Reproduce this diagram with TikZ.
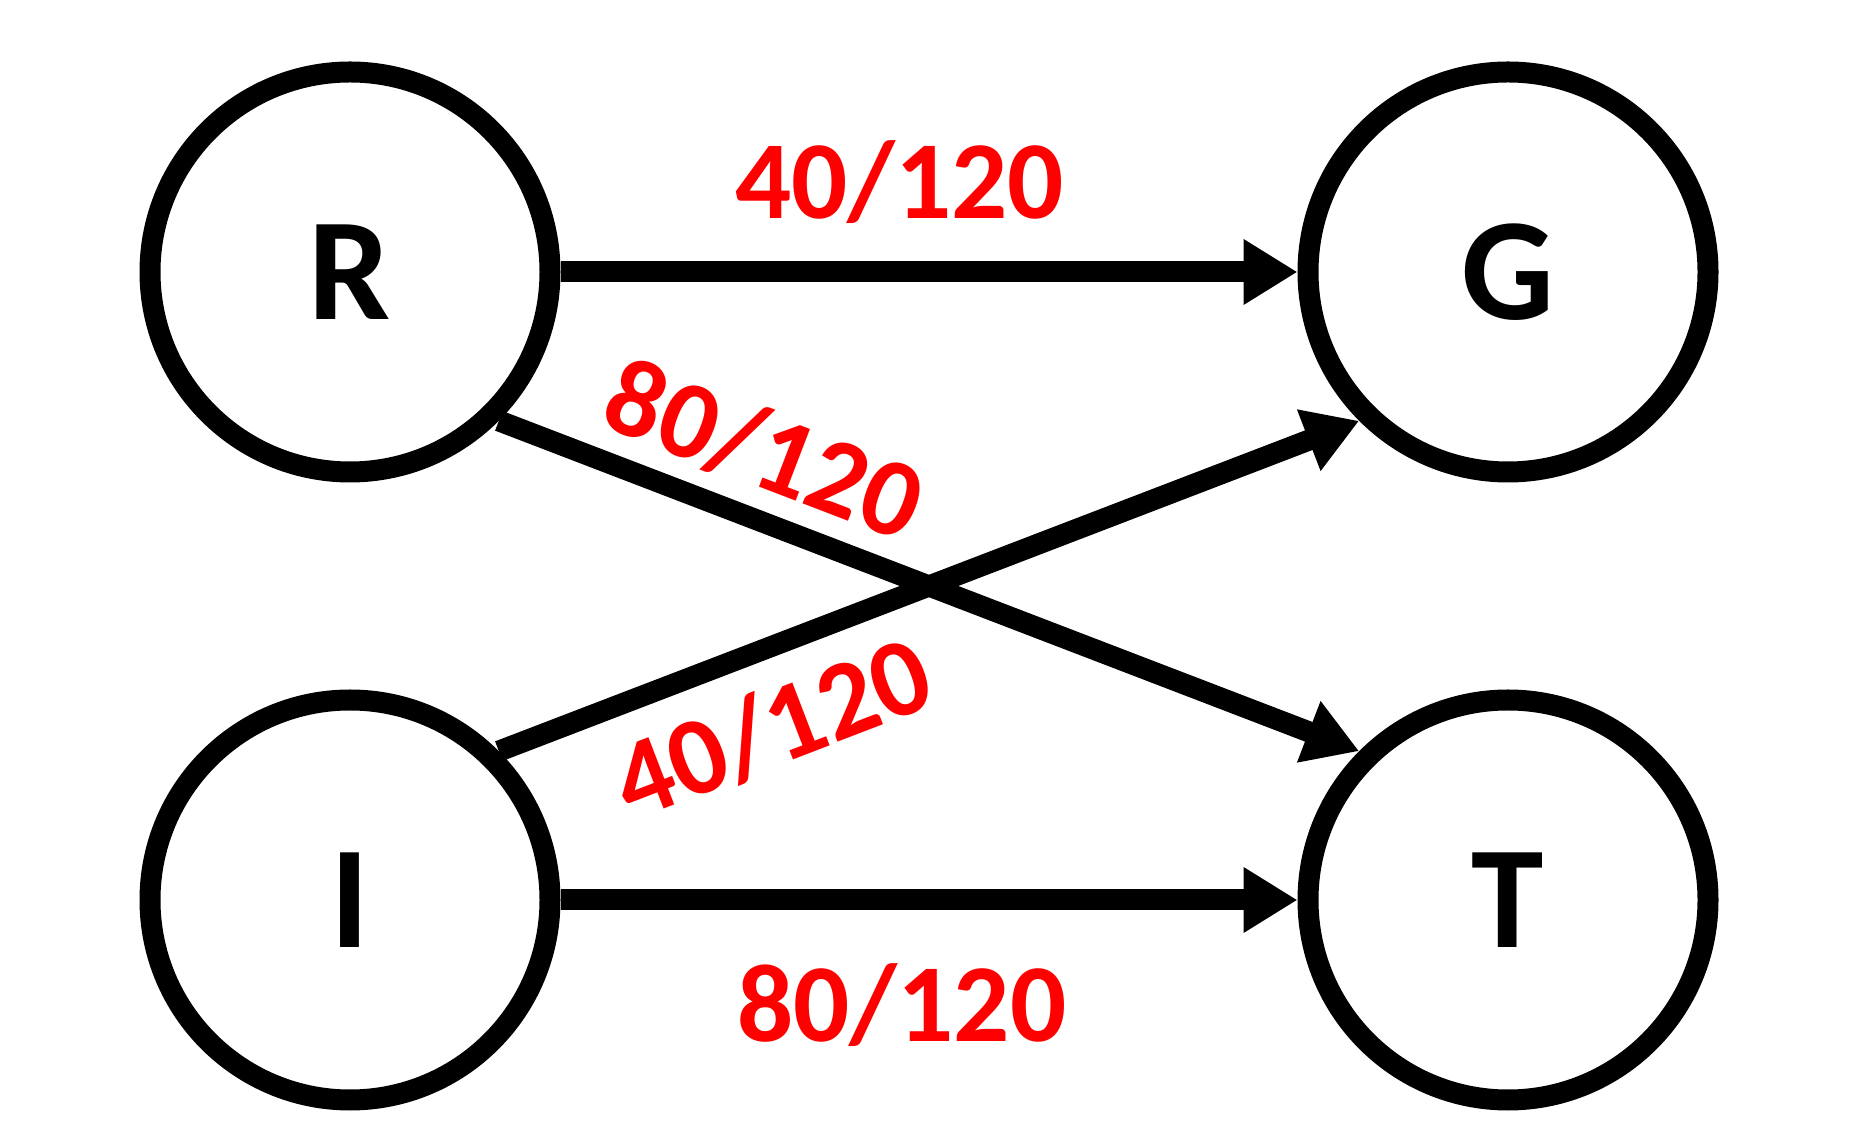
\documentclass[tikz,border=0pt]{standalone}
\usepackage{fontspec}
\setmainfont{Carlito}
\usetikzlibrary{arrows.meta}
\begin{document}
\begin{tikzpicture}[x=1pt,y=1pt,
  state/.style={circle, draw=black, line width=21pt, minimum size=400pt,
    inner sep=0pt, font=\fontsize{146}{146}\selectfont\bfseries},
  flow/.style={draw=black, line width=21pt,
    -{Triangle[length=54pt,width=62pt]}},
  weight/.style={text=red, inner sep=0pt,
    font=\fontsize{111}{111}\selectfont\bfseries}]
\useasboundingbox (0,0) rectangle (1870,1145);

% states
\node[state] (R) at (350,873) {R};
\node[state] (G) at (1508,873) {G};
\node[state] (I) at (350,245) {I};
\node[state] (T) at (1508,245) {T};

% weighted transitions
\draw[flow] (R.east) -- node[weight, pos=0.46, above=38pt] {40/120} (G.west);
\draw[flow] (R.south east) -- node[weight, pos=0.28, sloped, above=16pt] {80/120} (T.north west);
\draw[flow] (I.north east) -- node[weight, pos=0.286, sloped, below=25pt] {40/120} (G.south west);
\draw[flow] (I.east) -- node[weight, pos=0.463, below=53pt] {80/120} (T.west);
\end{tikzpicture}
\end{document}
